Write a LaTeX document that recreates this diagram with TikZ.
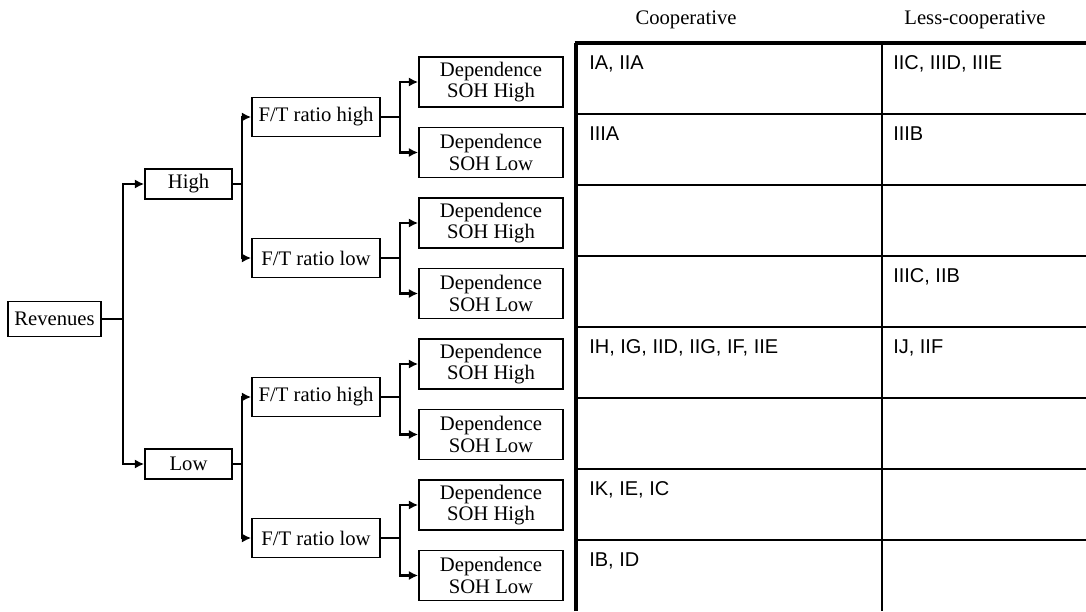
\documentclass[tikz,border=0pt]{standalone}
\usepackage{fontspec}
\setmainfont{Liberation Serif}
\setsansfont{Liberation Sans}
\usetikzlibrary{arrows.meta}
\begin{document}
\begin{tikzpicture}[x=0.75pt,y=-0.75pt,
  box/.style={draw,line width=1.35pt,inner sep=0pt,align=center,
    font=\fontsize{15.5}{16}\selectfont},
  depbox/.style={box,minimum width=108pt,minimum height=37.5pt},
  ftbox/.style={box,minimum width=96pt,minimum height=29.25pt},
  hlbox/.style={box,minimum width=65.25pt,minimum height=22.5pt},
  revbox/.style={box,minimum width=69.75pt,minimum height=26.25pt},
  conn/.style={line width=1.7pt},
  arr/.style={conn,-{Latex[length=7pt,width=7pt]}},
  cell/.style={anchor=base west,inner sep=0pt,font=\sffamily\fontsize{15}{16}\selectfont},
  head/.style={anchor=base,inner sep=0pt,font=\fontsize{15.5}{16}\selectfont},
  thick line/.style={line width=3pt},
  thin line/.style={line width=1.5pt}]
\useasboundingbox (0,0) rectangle (1086,611);

% tree nodes
\node[revbox] (rev) at (54.5,319) {Revenues};
\node[hlbox] (high) at (188.5,184) {High};
\node[hlbox] (low) at (188.5,464) {Low};
\node[ftbox] (ft1) at (316,117) {F/T ratio high};
\node[ftbox] (ft2) at (316,258) {F/T ratio low};
\node[ftbox] (ft3) at (316,397) {F/T ratio high};
\node[ftbox] (ft4) at (316,538) {F/T ratio low};
\foreach \i/\y/\t in {1/82/High,2/152.5/Low,3/223/High,4/293.5/Low,5/364/High,6/434.5/Low,7/505/High,8/575.5/Low}
  \node[depbox] (d\i) at (491,\y) {Dependence\\SOH \t};

% connectors
\coordinate (j0) at (123,319);
\draw[conn] (rev.east) -- (j0);
\draw[arr] (j0) |- (high.west);
\draw[arr] (j0) |- (low.west);

\coordinate (jh) at (242,184);
\draw[conn] (high.east) -- (jh);
\draw[arr] (jh) |- (ft1.west);
\draw[arr] (jh) |- (ft2.west);
\coordinate (jl) at (242,464);
\draw[conn] (low.east) -- (jl);
\draw[arr] (jl) |- (ft3.west);
\draw[arr] (jl) |- (ft4.west);

\coordinate (jf1) at (400,117);
\coordinate (jf2) at (400,258);
\coordinate (jf3) at (400,397);
\coordinate (jf4) at (400,538);
\foreach \f/\a/\b in {1/1/2,2/3/4,3/5/6,4/7/8}{
  \draw[conn] (ft\f.east) -- (jf\f);
  \draw[arr] (jf\f) |- (d\a.west);
  \draw[arr] (jf\f) |- (d\b.west);
}

% table
\coordinate (tl) at (576,43);
\coordinate (tr) at (1086,43);
\coordinate (bl) at (576,611);
\coordinate (ct) at (882,43);
\coordinate (cb) at (882,611);
\foreach \k in {1,...,7}{
  \draw[thin line] (576,43+71*\k) -- (1086,43+71*\k);
}
\draw[thin line] (ct) -- (cb);
\draw[thick line] (bl) -- (tl);
\draw[line width=2.6pt] (574.5,43) -- (tr);

\node[head] (h1) at (686,24) {Cooperative};
\node[head] (h2) at (975,24) {Less-cooperative};

\node[cell] (c11) at (589,69) {IA, IIA};
\node[cell] (c12) at (893,69) {IIC, IIID, IIIE};
\node[cell] (c21) at (589,140) {IIIA};
\node[cell] (c22) at (893,140) {IIIB};
\node[cell] (c42) at (893,282) {IIIC, IIB};
\node[cell] (c51) at (589,353) {IH, IG, IID, IIG, IF, IIE};
\node[cell] (c52) at (893,353) {IJ, IIF};
\node[cell] (c71) at (589,495) {IK, IE, IC};
\node[cell] (c81) at (589,566) {IB, ID};
\end{tikzpicture}
\end{document}
